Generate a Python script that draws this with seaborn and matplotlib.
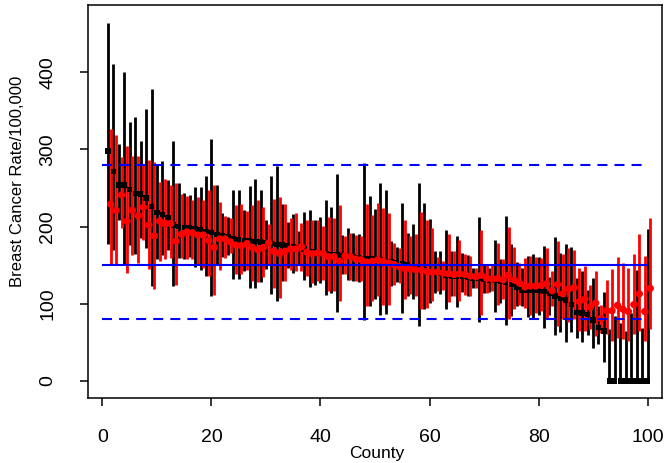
import numpy as np
import pandas as pd
import matplotlib
matplotlib.use("Agg")
import matplotlib.pyplot as plt
import seaborn as sns

county = list(range(1, 101))

black_rate = [298, 271, 254, 254, 248, 243, 242, 237, 226, 218,
              216, 212, 202, 200, 199, 198, 197, 196, 194, 192,
              190, 188, 187, 184, 183, 182, 182, 181, 180, 179,
              178, 177, 176, 175, 174, 173, 171, 168, 167, 166,
              165, 164, 163, 162, 162, 161, 160, 159, 159, 158,
              157, 155, 154, 153, 152, 151, 148, 146, 144, 142,
              141, 139, 137, 136, 136, 135, 134, 133, 133, 132,
              131, 130, 129, 128, 125, 122, 118, 118, 118, 117,
              116, 113, 110, 107, 105, 99, 89, 88, 86, 79,
              69, 65, 0, 0, 0, 0, 0, 0, 0, 0]
black_lo = [178, 170, 208, 150, 176, 165, 185, 172, 123, 158,
            163, 170, 123, 159, 158, 160, 148, 144, 136, 110,
            150, 160, 163, 132, 132, 143, 121, 120, 128, 145,
            113, 103, 129, 146, 140, 151, 131, 122, 125, 127,
            111, 114, 90, 138, 131, 129, 128, 79, 97, 106,
            86, 87, 123, 128, 88, 110, 106, 71, 93, 101,
            114, 113, 93, 110, 96, 115, 110, 120, 76, 114,
            115, 90, 101, 72, 84, 97, 97, 83, 82, 85,
            69, 86, 60, 63, 50, 63, 56, 51, 60, 43,
            48, 24, 0, 0, 0, 0, 0, 0, 0, 0]
black_hi = [464, 411, 307, 400, 336, 342, 311, 352, 378, 280,
            285, 260, 311, 256, 243, 241, 251, 251, 266, 313,
            254, 217, 213, 247, 247, 222, 252, 261, 247, 208,
            266, 278, 229, 206, 216, 194, 219, 222, 208, 212,
            234, 226, 268, 189, 198, 192, 191, 282, 240, 223,
            256, 248, 181, 173, 230, 192, 203, 256, 230, 210,
            168, 168, 196, 168, 188, 166, 163, 146, 212, 151,
            146, 182, 158, 214, 178, 154, 146, 162, 164, 161,
            175, 135, 186, 166, 177, 174, 133, 142, 118, 133,
            97, 115, 67, 84, 75, 65, 88, 144, 69, 197]

red_rate = [229, 221, 241, 207, 221, 214, 225, 202, 188, 207,
            203, 204, 181, 190, 193, 192, 189, 189, 182, 173,
            184, 184, 180, 176, 175, 178, 173, 170, 173, 179,
            168, 165, 168, 171, 171, 174, 167, 165, 166, 165,
            161, 161, 155, 162, 161, 158, 157, 154, 155, 157,
            155, 153, 151, 148, 146, 145, 144, 144, 142, 141,
            141, 140, 139, 138, 139, 138, 136, 135, 137, 133,
            132, 133, 131, 137, 131, 127, 122, 123, 123, 124,
            126, 117, 125, 113, 119, 121, 103, 106, 96, 101,
            81, 91, 91, 98, 93, 90, 99, 113, 90, 120]
red_lo = [151, 151, 198, 140, 163, 153, 183, 145, 119, 155,
          158, 159, 125, 159, 158, 158, 151, 146, 136, 112,
          144, 159, 166, 139, 139, 144, 130, 128, 135, 152,
          121, 108, 129, 144, 142, 143, 136, 127, 129, 131,
          116, 116, 103, 138, 131, 129, 129, 97, 103, 110,
          98, 99, 125, 127, 106, 113, 110, 93, 95, 103,
          116, 118, 102, 110, 103, 112, 110, 121, 86, 114,
          116, 99, 106, 80, 93, 99, 95, 86, 88, 91,
          80, 97, 71, 80, 76, 80, 65, 65, 67, 58,
          62, 61, 52, 56, 54, 52, 61, 65, 52, 67]
red_hi = [327, 319, 290, 305, 291, 291, 281, 286, 284, 258,
          262, 254, 256, 242, 239, 234, 238, 234, 247, 254,
          232, 214, 211, 228, 229, 220, 228, 234, 225, 204,
          236, 238, 229, 211, 217, 205, 209, 209, 208, 201,
          213, 211, 228, 188, 192, 189, 188, 229, 215, 230,
          224, 217, 179, 172, 209, 188, 191, 219, 208, 198,
          161, 155, 191, 168, 183, 164, 162, 146, 196, 152,
          151, 179, 158, 199, 173, 153, 159, 162, 161, 159,
          172, 142, 181, 165, 172, 170, 146, 149, 125, 143,
          99, 131, 145, 161, 153, 146, 165, 191, 162, 211]

ref_levels = [280, 150, 80]
x_ticks = [0, 20, 40, 60, 80, 100]
y_ticks = [0, 100, 200, 300, 400]

sns.set_theme(style="white")
plt.rcParams['font.family'] = ['Liberation Sans', 'DejaVu Sans']

df_black = pd.DataFrame({"county": county, "rate": black_rate,
                         "lo": black_lo, "hi": black_hi})
df_red = pd.DataFrame({"county": np.array(county) + 0.5, "rate": red_rate,
                       "lo": red_lo, "hi": red_hi})

W, H = 665, 463
fig = plt.figure(figsize=(W / 100, H / 100), dpi=100)
L, R, T, B = 88, 662, 5, 398
ax = fig.add_axes([L / W, 1 - B / H, (R - L) / W, (B - T) / H])

ax.vlines(df_black["county"], df_black["lo"], df_black["hi"], color="black",
          lw=2.0, zorder=2)
ax.vlines(df_red["county"], df_red["lo"], df_red["hi"], color="#FF0000",
          lw=2.0, zorder=3)
sns.scatterplot(data=df_black, x="county", y="rate", marker="s", color="black",
                s=15, edgecolor="none", linewidth=0, ax=ax, zorder=4)
sns.scatterplot(data=df_red, x="county", y="rate", marker="o", color="#FF0000",
                s=28, edgecolor="none", linewidth=0, ax=ax, zorder=5)

ax.hlines([ref_levels[0], ref_levels[2]], 0, 100, colors="#0000FF",
          linestyles=(0, (4.8, 3.4)), lw=1.5, zorder=6)
ax.hlines([ref_levels[1]], 0, 100, colors="#0000FF", linestyles="solid",
          lw=1.5, zorder=6)

ax.set_xlim(-2.66, 102.66)
ax.set_ylim(-22, 487)
ax.set_xticks(x_ticks)
ax.set_xticklabels([str(v) for v in x_ticks], fontsize=14)
ax.set_yticks(y_ticks)
ax.set_yticklabels([str(v) for v in y_ticks], fontsize=14, rotation=90,
                   va="center", ha="right")
ax.tick_params(axis="both", direction="out", length=6, width=1.1,
               color="black", labelcolor="black", bottom=True, left=True)
ax.tick_params(axis="x", pad=16)
ax.tick_params(axis="y", pad=17)
for sp in ax.spines.values():
    sp.set_visible(True)
    sp.set_color("black")
    sp.set_linewidth(1.1)

ax.set_xlabel("County", fontsize=12.5, color="black")
ax.set_ylabel("Breast Cancer Rate/100,000", fontsize=12, color="black")
ax.xaxis.set_label_coords((377 - L) / (R - L), (B - 446) / (B - T))
ax.yaxis.set_label_coords((25 - L) / (R - L), (B - 181) / (B - T))
ax.grid(False)

fig.savefig("out.png", dpi=100)
